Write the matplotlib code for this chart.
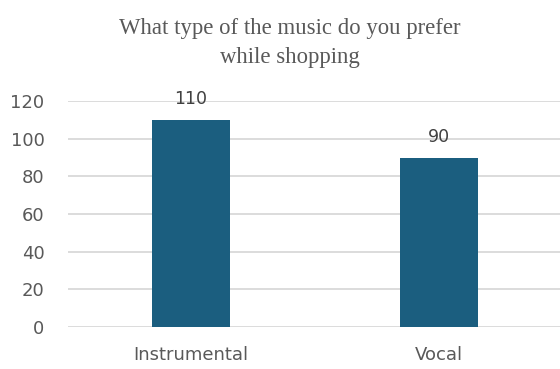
import matplotlib
matplotlib.use("Agg")
import matplotlib.pyplot as plt

categories = ["Instrumental", "Vocal"]
values = [110, 90]
y_ticks = [0, 20, 40, 60, 80, 100, 120]
title = "What type of the music do you prefer\nwhile shopping"

bar_color = "#1B5E7F"
grid_color = "#D9D9D9"
text_color = "#595959"

fig = plt.figure(figsize=(5.6, 3.69), dpi=100)
ax = fig.add_axes([68 / 560, (369 - 327) / 369, 1 - 68 / 560, (327 - 101) / 369])

x = list(range(len(categories)))
ax.bar(x, values, width=0.315, color=bar_color, zorder=3)

for xi, v in zip(x, values):
    ax.annotate(str(v), (xi, v), xytext=(0, 8.5), textcoords="offset points",
                ha="center", va="bottom", fontsize=12.5, color="#404040",
                family="DejaVu Sans", zorder=4)

ax.set_xlim(-0.496, 1.488)
ax.set_ylim(0, 120)
ax.set_yticks(y_ticks)
ax.set_xticks(x)
ax.set_xticklabels(categories)
ax.grid(axis="y", color=grid_color, linewidth=1.3, zorder=0)
ax.set_axisbelow(True)
for s in ax.spines.values():
    s.set_visible(False)
ax.tick_params(axis="both", length=0, labelsize=13, colors=text_color)
ax.tick_params(axis="x", pad=13.5)
ax.tick_params(axis="y", pad=17)
for lab in ax.get_xticklabels() + ax.get_yticklabels():
    lab.set_family("DejaVu Sans")

fig.text(290 / 560, 1 - 43 / 369, title, ha="center", va="center",
         fontsize=16.4, color=text_color, family="Liberation Serif",
         linespacing=1.5)

fig.savefig("out.png", dpi=100, facecolor="white")
